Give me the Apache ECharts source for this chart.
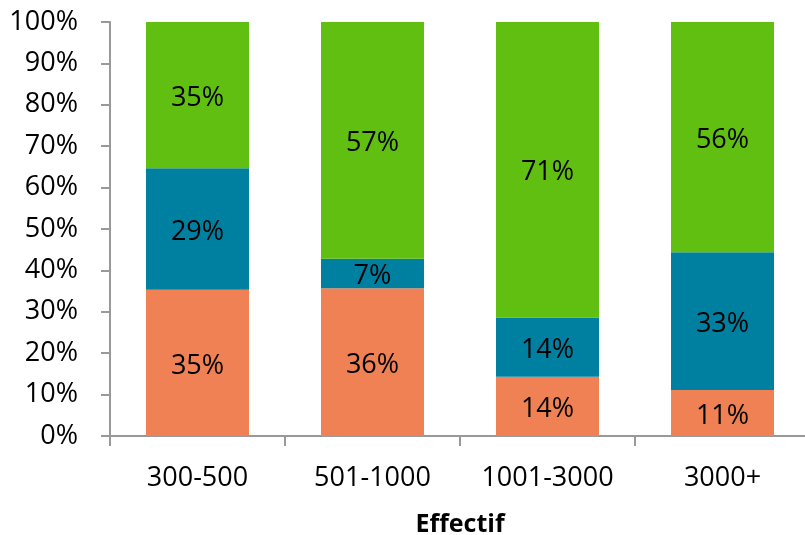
<!DOCTYPE html>
<html>
<head>
<meta charset="utf-8">
<script src="https://cdn.jsdelivr.net/npm/echarts@6/dist/echarts.min.js"></script>
<style>html,body{margin:0;padding:0;background:#fff}#c{width:805px;height:535px}</style>
</head>
<body>
<div id="c"></div>
<script>
const categories = ['300-500', '501-1000', '1001-3000', '3000+'];
const orangeValues = [35.3, 35.7, 14.3, 11.1];
const blueValues = [29.4, 7.1, 14.3, 33.3];
const greenValues = [35.3, 57.2, 71.4, 55.6];
const yTicks = [0, 10, 20, 30, 40, 50, 60, 70, 80, 90, 100];
const xTitle = 'Effectif';

const FONT = 'Open Sans';
const chart = echarts.init(document.getElementById('c'), null, {renderer: 'canvas'});
const label = {
  show: true, position: 'inside', offset: [0, 3], color: '#000', fontFamily: FONT, fontSize: 27,
  formatter: p => Math.round(p.value) + '%'
};
function s(name, data, color) {
  return {name, type: 'bar', stack: 'total', data, barWidth: 103,
    itemStyle: {color}, label, emphasis: {disabled: true}};
}
chart.setOption({
  animation: false,
  grid: {left: 110, top: 22, width: 700, height: 414, containLabel: false, outerBoundsMode: 'none'},
  xAxis: {
    type: 'category', data: categories,
    name: xTitle, nameLocation: 'middle', nameGap: 76,
    nameTextStyle: {fontFamily: FONT, fontSize: 25, fontWeight: 'bold', color: '#000'},
    axisLine: {lineStyle: {color: '#999', width: 2}},
    axisTick: {show: true, interval: 0, length: 10, lineStyle: {color: '#999', width: 2}, alignWithLabel: false},
    axisLabel: {interval: 0, fontFamily: FONT, fontSize: 27, color: '#000', margin: 29}
  },
  yAxis: {
    type: 'value', min: yTicks[0], max: yTicks[yTicks.length - 1], interval: 10,
    axisLine: {show: true, lineStyle: {color: '#999', width: 2}},
    axisTick: {show: true, length: 9, lineStyle: {color: '#999', width: 2}},
    splitLine: {show: false},
    axisLabel: {fontFamily: FONT, fontSize: 27, color: '#000', margin: 32, formatter: '{value}%'}
  },
  series: [
    s('Orange', orangeValues, '#EF8154'),
    s('Bleu', blueValues, '#0080A0'),
    s('Vert', greenValues, '#60BF10')
  ]
});
</script>
</body>
</html>
